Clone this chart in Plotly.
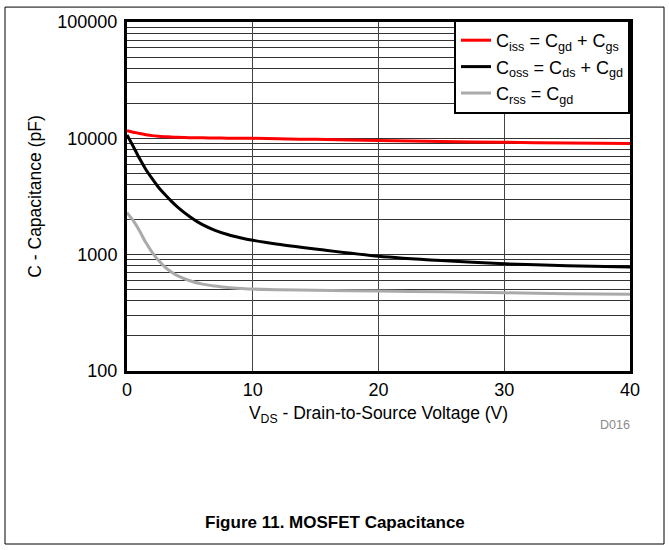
import plotly.graph_objects as go

# Data
vds = [0, 0.5, 1, 1.5, 2, 2.5, 3, 3.5, 4, 5, 6, 7, 8, 9, 10, 12, 15, 20, 25, 30, 35, 40]
ciss = [11600, 11300, 11000, 10750, 10550, 10420, 10330, 10260, 10200, 10140, 10100, 10070,
        10040, 10020, 10000, 9900, 9800, 9600, 9400, 9250, 9120, 9010]
coss = [10700, 8500, 6700, 5400, 4500, 3800, 3300, 2900, 2580, 2120, 1810, 1620,
        1490, 1400, 1330, 1230, 1120, 970, 890, 835, 805, 785]
crss = [2300, 1960, 1600, 1270, 1046, 894, 787, 714, 660, 597, 558, 537,
        521, 513, 506, 500, 494, 486, 480, 470, 462, 456]

y_tickvals = [100, 1000, 10000, 100000]
y_ticktext = ["100", "1000", "10000", "100000"]
x_tickvals = [0, 10, 20, 30, 40]

names = [
    "C<sub>iss</sub> = C<sub>gd</sub> + C<sub>gs</sub>",
    "C<sub>oss</sub> = C<sub>ds</sub> + C<sub>gd</sub>",
    "C<sub>rss</sub> = C<sub>gd</sub>",
]
colors = ["#ff0000", "#000000", "#aaaaaa"]

FONT = "Liberation Sans, Arial, sans-serif"

fig = go.Figure()
for ys, nm, col in zip([ciss, coss, crss], names, colors):
    fig.add_trace(go.Scatter(x=vds, y=ys, mode="lines", name=nm,
                             line=dict(color=col, width=3, shape="spline", smoothing=0.8)))

L, R, T, B = 127, 39, 20, 179
W, H = 669, 550
pw, ph = W - L - R, H - T - B

def px(x):
    return (x - L) / pw

def py(y):
    return (H - B - y) / ph

fig.update_layout(
    width=W, height=H,
    margin=dict(l=L, r=R, t=T, b=B, pad=0),
    paper_bgcolor="white", plot_bgcolor="white",
    font=dict(family=FONT, size=17, color="black"),
    showlegend=True,
    legend=dict(x=1, xanchor="right", y=py(18), yanchor="top",
                bgcolor="white", bordercolor="black", borderwidth=2,
                font=dict(size=18), tracegroupgap=0, itemwidth=30,
                entrywidth=150, entrywidthmode="pixels"),
    xaxis=dict(range=[0, 40], tickvals=x_tickvals, showgrid=True,
               gridcolor="#444", gridwidth=1, showline=True, linecolor="black",
               linewidth=3, mirror=True, ticks="", zeroline=False,
               tickfont=dict(size=18),
               title=dict(text="V<sub>DS</sub> - Drain-to-Source Voltage (V)", standoff=9,
                          font=dict(size=17.5))),
    yaxis=dict(type="log", range=[2, 5], tickvals=y_tickvals, ticktext=y_ticktext,
               showgrid=True, gridcolor="#333", gridwidth=1,
               minor=dict(dtick="D1", showgrid=True, gridcolor="#333", gridwidth=1, ticks=""),
               showline=True, linecolor="black", linewidth=3, mirror=True, ticks="",
               zeroline=False, tickfont=dict(size=18), ticklabelstandoff=3,
               title=dict(text="C - Capacitance (pF)", standoff=12, font=dict(size=17.5))),
    shapes=[dict(type="rect", xref="paper", yref="paper",
                 x0=px(5), x1=px(664), y0=py(545), y1=py(5),
                 line=dict(color="black", width=1))],
    annotations=[
        dict(text="D016", xref="paper", yref="paper", x=px(615), y=py(425),
             xanchor="center", yanchor="middle",
             showarrow=False, font=dict(size=12.5, color="#8a8a8a")),
        dict(text="<b>Figure 11. MOSFET Capacitance</b>", xref="paper", yref="paper",
             x=px(335), y=py(523), xanchor="center", yanchor="middle",
             showarrow=False, font=dict(size=17, color="black")),
    ],
)

fig.write_html("out.html", config={"displayModeBar": False},
               post_script="document.body.style.margin='0px';document.body.style.overflow='hidden';")
